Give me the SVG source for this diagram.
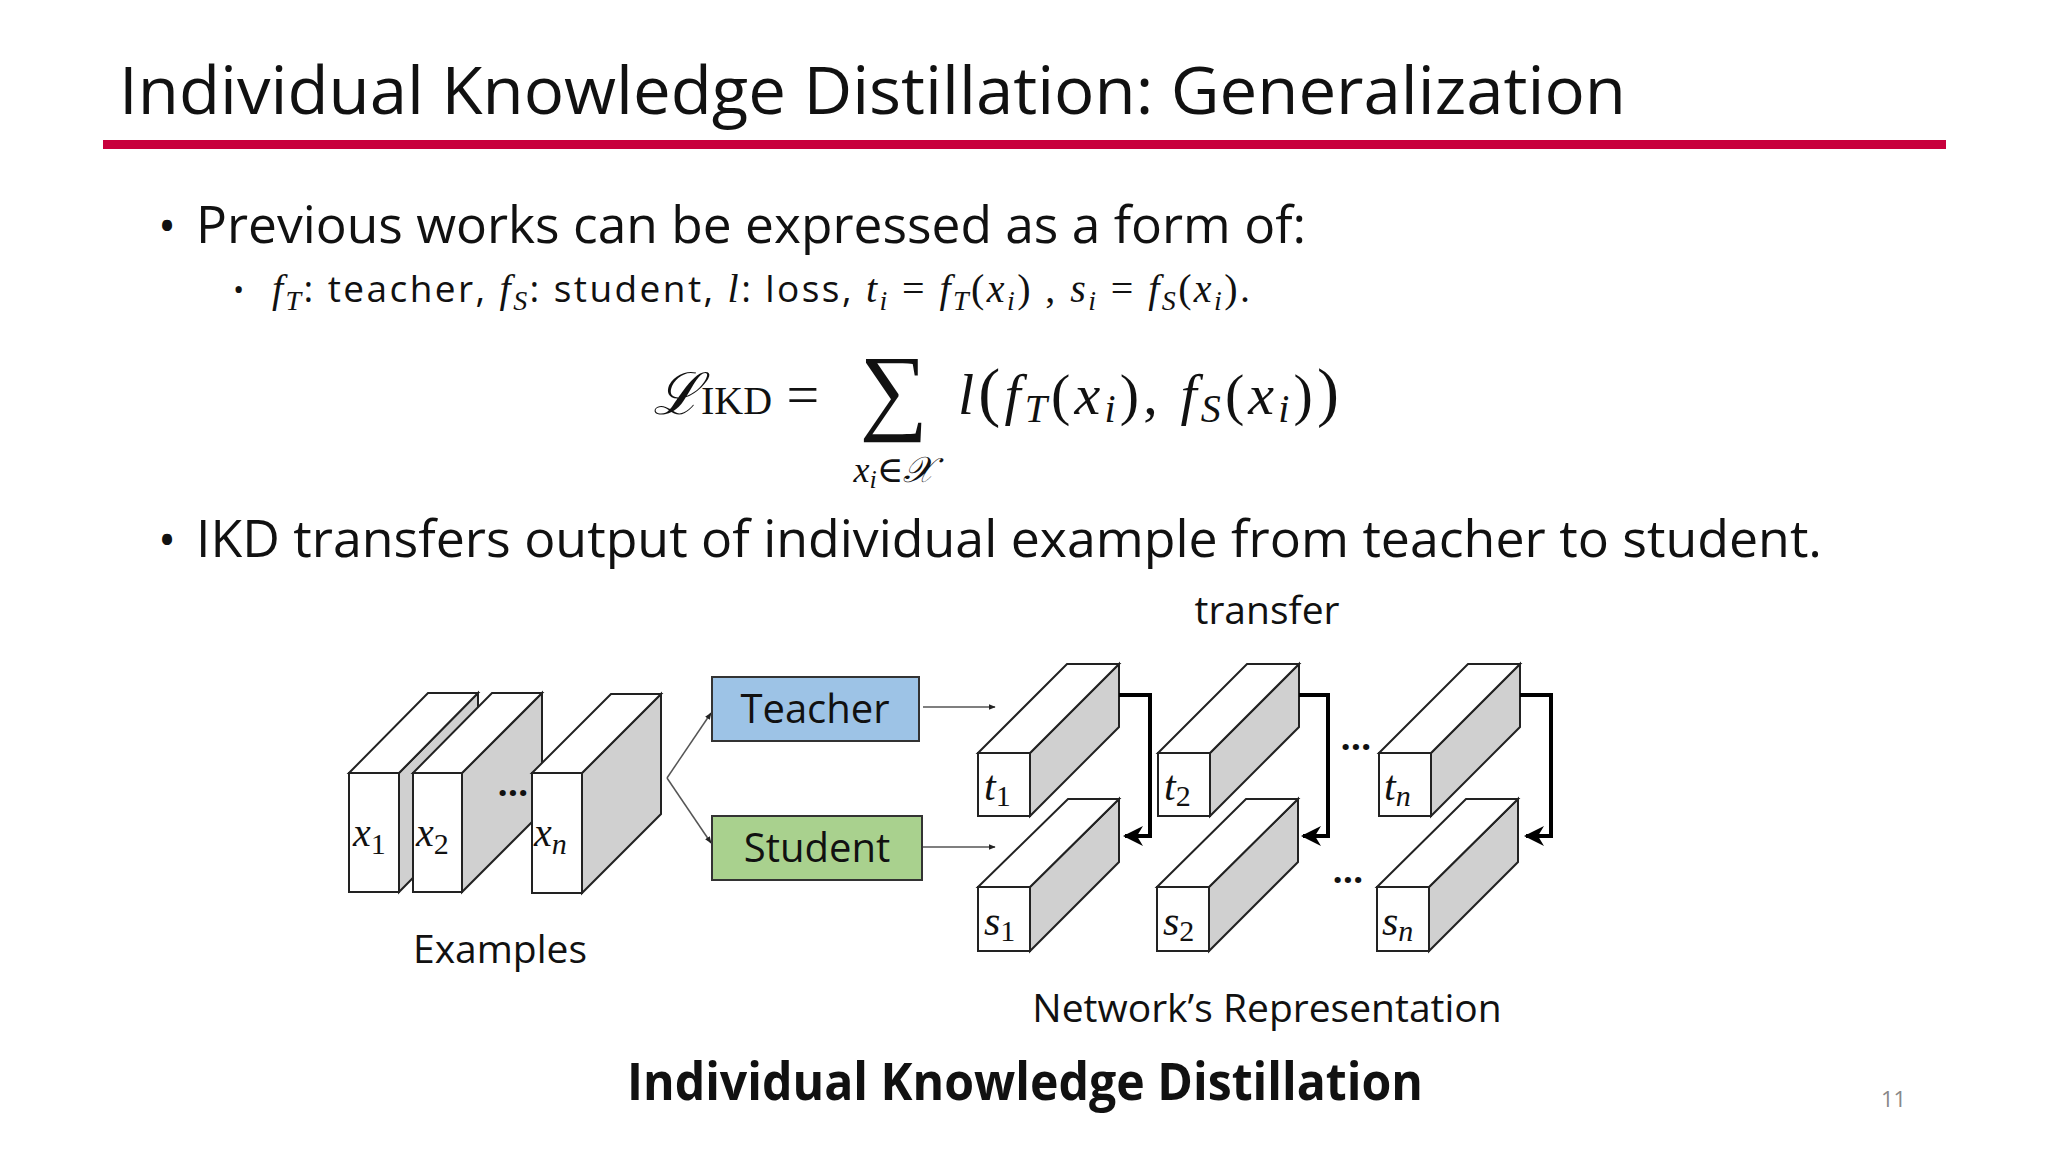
<svg xmlns="http://www.w3.org/2000/svg" width="2048" height="1152" viewBox="0 0 2048 1152">
<style>
.s{font-family:"Open Sans","Noto Sans","Liberation Sans",sans-serif;fill:#111}
.m{font-family:"Liberation Serif","DejaVu Serif",serif;fill:#111}
.i{font-style:italic}
.f{fill:#fff;stroke:#222;stroke-width:2}
.g{fill:#d0d0d0;stroke:#222;stroke-width:2}
.br{fill:none;stroke:#000;stroke-width:4}
.ln{fill:none;stroke:#555;stroke-width:1.5}
</style>
<defs>
<marker id="a" viewBox="0 0 10 10" refX="9" refY="5" markerWidth="7" markerHeight="7" orient="auto" markerUnits="userSpaceOnUse"><path d="M0,1 L10,5 L0,9 z" fill="#222"/></marker>
<marker id="b" viewBox="0 0 10 10" refX="9" refY="5" markerWidth="5" markerHeight="5" orient="auto"><path d="M0,0 L10,5 L0,10 L3,5 z" fill="#000"/></marker>
</defs>
<rect width="2048" height="1152" fill="#fff"/>
<text class="s" x="119" y="114" font-size="66" textLength="1507" lengthAdjust="spacingAndGlyphs">Individual Knowledge Distillation: Generalization</text>
<rect x="103" y="140" width="1843" height="9" fill="#c8003c"/>
<text class="s" x="158" y="243" font-size="48">•</text>
<text class="s" x="196" y="243" font-size="52" textLength="1110" lengthAdjust="spacingAndGlyphs">Previous works can be expressed as a form of:</text>
<text class="s" x="233" y="300" font-size="30">•</text>
<text class="m" x="272" y="302" font-size="40" textLength="978" lengthAdjust="spacing"><tspan class="i">f</tspan><tspan class="i" font-size="28" dy="8">T</tspan><tspan dy="-8" class="s" font-size="37">: teacher,  </tspan><tspan class="i">f</tspan><tspan class="i" font-size="28" dy="8">S</tspan><tspan dy="-8" class="s" font-size="37">: student, </tspan><tspan class="i">l</tspan><tspan class="s" font-size="37">: loss, </tspan><tspan class="i">t</tspan><tspan class="i" font-size="28" dy="8">i</tspan><tspan dy="-8"> = </tspan><tspan class="i">f</tspan><tspan class="i" font-size="28" dy="8">T</tspan><tspan dy="-8">(</tspan><tspan class="i">x</tspan><tspan class="i" font-size="28" dy="8">i</tspan><tspan dy="-8">) , </tspan><tspan class="i">s</tspan><tspan class="i" font-size="28" dy="8">i</tspan><tspan dy="-8"> = </tspan><tspan class="i">f</tspan><tspan class="i" font-size="28" dy="8">S</tspan><tspan dy="-8">(</tspan><tspan class="i">x</tspan><tspan class="i" font-size="28" dy="8">i</tspan><tspan dy="-8">).</tspan></text>
<text class="m" x="653" y="414" font-size="58"><tspan class="i">ℒ</tspan><tspan font-size="40">IKD</tspan><tspan> = </tspan></text>
<text class="m" x="894" y="422" font-size="96" text-anchor="middle">∑</text>
<text class="m i" x="894" y="482" font-size="36" text-anchor="middle">x<tspan font-size="26" dy="6">i</tspan><tspan dy="-6">∈𝒳</tspan></text>
<text class="m" x="958" y="414" font-size="58" textLength="381" lengthAdjust="spacing"><tspan class="i">l</tspan><tspan font-size="66">(</tspan><tspan class="i">f</tspan><tspan class="i" font-size="40" dy="8">T</tspan><tspan dy="-8">(</tspan><tspan class="i">x</tspan><tspan class="i" font-size="40" dy="8">i</tspan><tspan dy="-8">), </tspan><tspan class="i">f</tspan><tspan class="i" font-size="40" dy="8">S</tspan><tspan dy="-8">(</tspan><tspan class="i">x</tspan><tspan class="i" font-size="40" dy="8">i</tspan><tspan dy="-8">)</tspan><tspan font-size="66">)</tspan></text>
<text class="s" x="158" y="557" font-size="48">•</text>
<text class="s" x="196" y="557" font-size="52" textLength="1626" lengthAdjust="spacingAndGlyphs">IKD transfers output of individual example from teacher to student.</text>

<g id="examples">
<path class="g" d="M399,773 L478,693 L478,812 L399,892 z"/><path class="f" d="M349,773 L428,693 L478,693 L399,773 z"/><rect class="f" x="349" y="773" width="50" height="119"/>
<text class="m i" x="353" y="846" font-size="40">x<tspan font-style="normal" font-size="30" dy="8">1</tspan></text>
<path class="g" d="M462,773 L542,693 L542,812 L462,892 z"/><path class="f" d="M413,773 L492,693 L542,693 L462,773 z"/><rect class="f" x="413" y="773" width="49" height="119"/>
<text class="m i" x="416" y="846" font-size="40">x<tspan font-style="normal" font-size="30" dy="8">2</tspan></text>
<text class="s" x="513" y="796" font-size="36" text-anchor="middle" font-weight="bold">…</text>
<path class="g" d="M582,773 L661,694 L661,814 L582,893 z"/><path class="f" d="M532,773 L611,694 L661,694 L582,773 z"/><rect class="f" x="532" y="773" width="50" height="120"/>
<text class="m i" x="534" y="846" font-size="40">x<tspan font-size="30" dy="8">n</tspan></text>
<text class="s" x="500" y="963" font-size="39" text-anchor="middle">Examples</text>
</g>
<g id="teacher"><rect x="712" y="677" width="207" height="64" fill="#9dc3e6" stroke="#333" stroke-width="2"/><text class="s" x="815" y="723" font-size="40" text-anchor="middle">Teacher</text></g>
<g id="student"><rect x="712" y="816" width="210" height="64" fill="#a9d18e" stroke="#333" stroke-width="2"/><text class="s" x="817" y="862" font-size="40" text-anchor="middle">Student</text></g>

<g id="reps">
<g id="t1"><path class="g" d="M1030,753 L1119,664 L1119,727 L1030,816 z"/><path class="f" d="M978,753 L1067,664 L1119,664 L1030,753 z"/><rect class="f" x="978" y="753" width="52" height="63"/><text class="m i" x="984" y="800" font-size="42">t<tspan font-style="normal" font-size="30" dy="6">1</tspan></text></g>
<g id="s1"><path class="g" d="M1030,887 L1119,799 L1119,862 L1030,951 z"/><path class="f" d="M978,887 L1068,799 L1119,799 L1030,887 z"/><rect class="f" x="978" y="887" width="52" height="64"/><text class="m i" x="984" y="935" font-size="42">s<tspan font-style="normal" font-size="30" dy="6">1</tspan></text></g>
<g id="t2"><path class="g" d="M1210,753 L1299,664 L1299,727 L1210,816 z"/><path class="f" d="M1158,753 L1247,664 L1299,664 L1210,753 z"/><rect class="f" x="1158" y="753" width="52" height="63"/><text class="m i" x="1164" y="800" font-size="42">t<tspan font-style="normal" font-size="30" dy="6">2</tspan></text></g>
<g id="s2"><path class="g" d="M1209,887 L1298,799 L1298,862 L1209,951 z"/><path class="f" d="M1157,887 L1246,799 L1298,799 L1209,887 z"/><rect class="f" x="1157" y="887" width="52" height="64"/><text class="m i" x="1163" y="935" font-size="42">s<tspan font-style="normal" font-size="30" dy="6">2</tspan></text></g>
<g id="tn"><path class="g" d="M1431,753 L1520,664 L1520,727 L1431,816 z"/><path class="f" d="M1379,753 L1468,664 L1520,664 L1431,753 z"/><rect class="f" x="1379" y="753" width="52" height="63"/><text class="m i" x="1384" y="800" font-size="42">t<tspan font-size="30" dy="6">n</tspan></text></g>
<g id="sn"><path class="g" d="M1429,887 L1518,799 L1518,862 L1429,951 z"/><path class="f" d="M1377,887 L1466,799 L1518,799 L1429,887 z"/><rect class="f" x="1377" y="887" width="52" height="64"/><text class="m i" x="1382" y="935" font-size="42">s<tspan font-size="30" dy="6">n</tspan></text></g>
<text class="s" x="1356" y="750" font-size="36" text-anchor="middle" font-weight="bold">…</text>
<text class="s" x="1348" y="883" font-size="36" text-anchor="middle" font-weight="bold">…</text>
<text class="s" x="1267" y="624" font-size="39" text-anchor="middle">transfer</text>
<text class="s" x="1267" y="1022" font-size="39" text-anchor="middle">Network’s Representation</text>
</g>

<g id="connectors">
<path class="ln" d="M667,778 L711,713" marker-end="url(#a)"/>
<path class="ln" d="M667,778 L711,843" marker-end="url(#a)"/>
<path class="ln" d="M923,707 L995,707" marker-end="url(#a)"/>
<path class="ln" d="M923,847 L995,847" marker-end="url(#a)"/>
<path class="br" d="M1119,695 H1150 V836 H1125" marker-end="url(#b)"/>
<path class="br" d="M1299,695 H1328 V836 H1303" marker-end="url(#b)"/>
<path class="br" d="M1520,695 H1551 V836 H1526" marker-end="url(#b)"/>
</g>

<text class="s" x="1025" y="1100" font-size="52" font-weight="bold" text-anchor="middle" textLength="796" lengthAdjust="spacingAndGlyphs">Individual Knowledge Distillation</text>
<text class="s" x="1881" y="1107" font-size="22" style="fill:#888">11</text>
</svg>
